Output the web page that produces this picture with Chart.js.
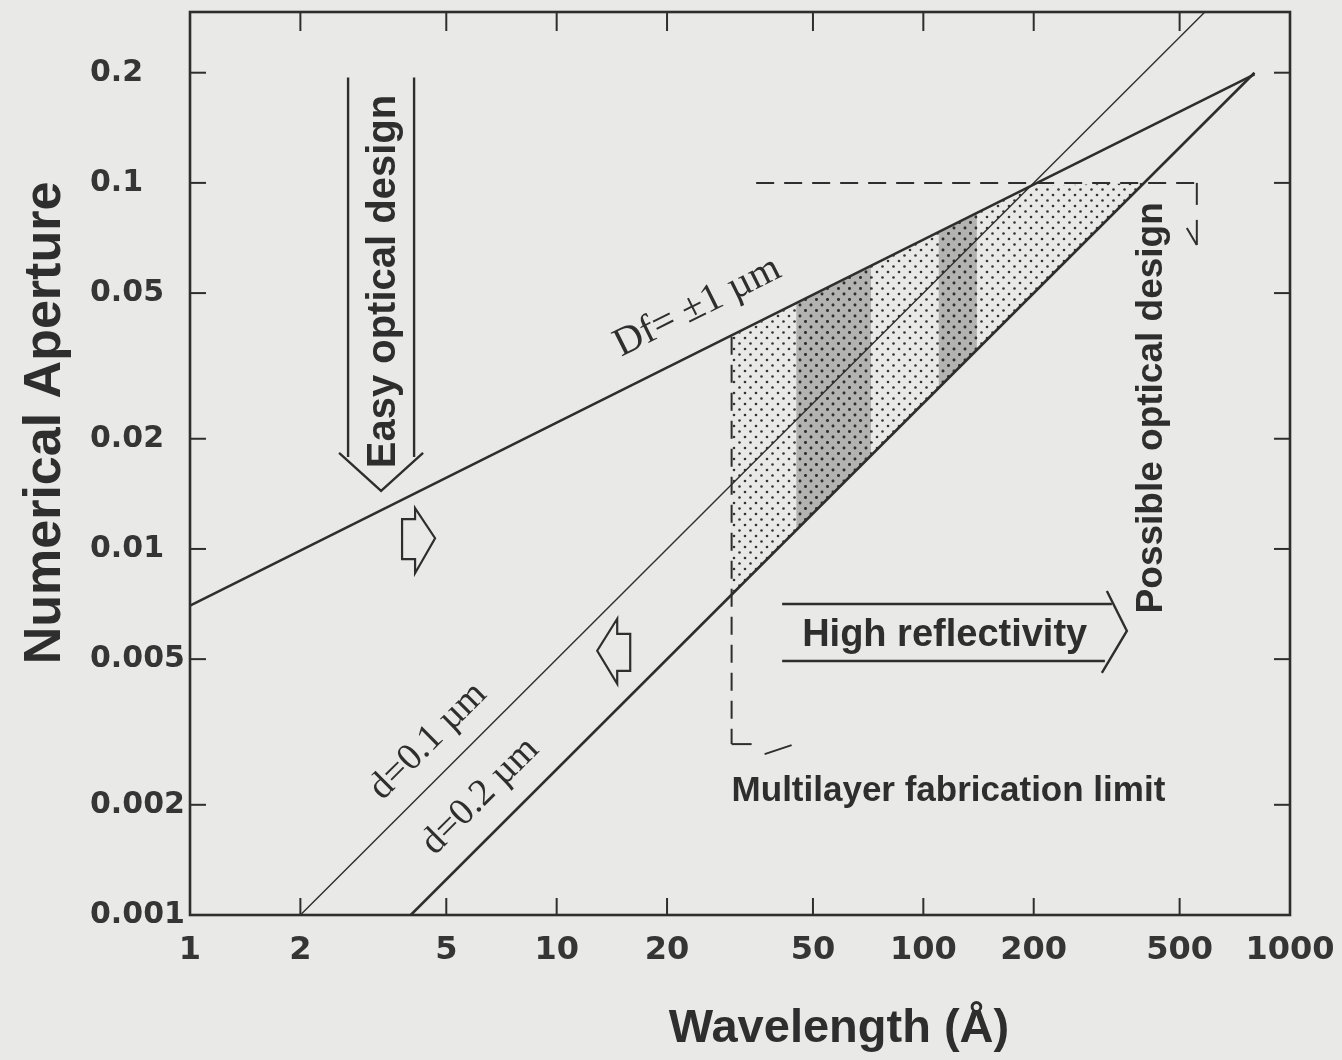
<!DOCTYPE html>
<html>
<head>
<meta charset="utf-8">
<script src="https://cdn.jsdelivr.net/npm/chart.js@4.4.1/dist/chart.umd.min.js"></script>
<style>
  html, body { margin: 0; padding: 0; background: #e9e9e7; }
</style>
</head>
<body>
<canvas id="chart" width="1342" height="1060"></canvas>
<script>
// axis ticks
const xTicks = [1, 2, 5, 10, 20, 50, 100, 200, 500, 1000];
const yTicks = [0.001, 0.002, 0.005, 0.01, 0.02, 0.05, 0.1, 0.2];

// boundary lines: wavelength (Å) / numerical aperture
const dfLambda = [1, 800];
const dfNA = [0.007, 0.198];
const d01Lambda = [2, 600];
const d01NA = [0.001, 0.3];
const d02Lambda = [4, 800];
const d02NA = [0.001, 0.2];

// dotted "possible design" zone
const zoneLambda = [30, 196, 400];
const zoneTop = [0.038, 0.098, 0.1];
const zoneBottom = [0.0075, 0.049, 0.1];

// darker bands inside the zone
const band1Lambda = [45, 72];
const band1Top = [0.047, 0.059];
const band1Bottom = [0.0113, 0.018];
const band2Lambda = [110, 140];
const band2Top = [0.073, 0.083];
const band2Bottom = [0.0275, 0.035];

const yTitle = 'Numerical Aperture';
const xTitle = 'Wavelength (Å)';

const ink = '#2e2e2e';
const canvas = document.getElementById('chart');
const c2d = canvas.getContext('2d');

function dotPattern(bg, dot, r) {
    const t = document.createElement('canvas');
    t.width = 11; t.height = 11;
    const g = t.getContext('2d');
    if (bg) { g.fillStyle = bg; g.fillRect(0, 0, 11, 11); }
    g.fillStyle = dot;
    [[2.5, 2.5], [8, 8]].forEach(([px, py]) => {
        g.beginPath(); g.arc(px, py, r, 0, Math.PI * 2); g.fill();
    });
    return c2d.createPattern(t, 'repeat');
}

const zonePattern = dotPattern(null, '#333333', 1.3);
const bandPattern = dotPattern('rgba(105,105,105,0.42)', '#2e2e2e', 1.4);

const pts = (xs, ys) => xs.map((x, i) => ({ x: x, y: ys[i] }));

const boundary = (xs, ys, w) => ({
    data: pts(xs, ys), borderColor: ink, borderWidth: w,
    pointRadius: 0, fill: false, tension: 0
});
const area = (xs, ys, fill, bg) => ({
    data: pts(xs, ys), borderColor: 'rgba(0,0,0,0)', borderWidth: 1,
    pointRadius: 0, fill: fill, backgroundColor: bg || 'rgba(0,0,0,0)', tension: 0
});

function seg(ctx, x1, y1, x2, y2) {
    ctx.beginPath(); ctx.moveTo(x1, y1); ctx.lineTo(x2, y2); ctx.stroke();
}
function poly(ctx, p, close) {
    ctx.beginPath();
    p.forEach(([px, py], i) => i ? ctx.lineTo(px, py) : ctx.moveTo(px, py));
    if (close) ctx.closePath();
    ctx.stroke();
}
function label(ctx, str, x, y, font, angle, align) {
    ctx.save();
    ctx.translate(x, y);
    ctx.rotate(angle || 0);
    ctx.font = font;
    ctx.textAlign = align || 'left';
    ctx.textBaseline = 'alphabetic';
    ctx.fillStyle = ink;
    ctx.fillText(str, 0, 0);
    ctx.restore();
}

const decor = {
    id: 'decor',
    afterDatasetsDraw(chart) {
        const { ctx, chartArea: a, scales: { x, y } } = chart;
        const X = v => x.getPixelForValue(v);
        const Y = v => y.getPixelForValue(v);
        ctx.save();
        ctx.strokeStyle = ink;
        ctx.lineJoin = 'miter';

        // frame + inward ticks
        ctx.lineWidth = 2.6;
        ctx.strokeRect(a.left, a.top, a.right - a.left, a.bottom - a.top);
        ctx.lineWidth = 2;
        xTicks.forEach(v => {
            const px = X(v);
            seg(ctx, px, a.bottom, px, a.bottom - 17);
            seg(ctx, px, a.top, px, a.top + 19);
        });
        yTicks.forEach(v => {
            const py = Y(v);
            seg(ctx, a.left, py, a.left + 16, py);
            seg(ctx, a.right, py, a.right - 16, py);
        });

        // slanted line labels
        const ang = (xs, ys) => Math.atan2(Y(ys[1]) - Y(ys[0]), X(xs[1]) - X(xs[0]));
        label(ctx, 'Df= ±1 µm', X(15), Y(0.0335), '40px "Liberation Serif"', ang(dfLambda, dfNA));
        label(ctx, 'd=0.1 µm', X(3.35), Y(0.00205), '38px "Liberation Serif"', ang(d01Lambda, d01NA));
        label(ctx, 'd=0.2 µm', X(4.65), Y(0.00145), '38px "Liberation Serif"', ang(d02Lambda, d02NA));

        // dashed limits
        ctx.lineWidth = 2;
        ctx.setLineDash([18, 10]);
        const fx = X(30), fy = Y(0.00293);
        seg(ctx, fx, Y(0.038), fx, fy);
        const gx = X(557), gy = Y(0.1);
        seg(ctx, X(35), gy, gx, gy);
        ctx.setLineDash([]);
        seg(ctx, fx, fy, fx + 20, fy);
        seg(ctx, fx + 33, fy + 10, fx + 60, fy + 1);
        seg(ctx, gx, gy, gx, gy + 22);
        seg(ctx, gx, gy + 37, gx, gy + 62);
        seg(ctx, gx - 10, gy + 45, gx, gy + 62);

        // "Easy optical design" arrow
        ctx.lineWidth = 2.4;
        const ax = X(3.32), aTop = Y(0.194), aTip = Y(0.0144);
        seg(ctx, ax - 33, aTop, ax - 33, aTip - 34);
        seg(ctx, ax + 33, aTop, ax + 33, aTip - 34);
        poly(ctx, [[ax - 42, aTip - 38], [ax, aTip], [ax + 42, aTip - 38]]);
        label(ctx, 'Easy optical design', ax + 14, aTop + 204, 'bold 40px "Liberation Sans"', -Math.PI / 2, 'center');

        // "High reflectivity" arrow
        const hl = X(41.2), ht = X(359), hy = Y(0.00597);
        seg(ctx, hl, hy - 27, ht - 15, hy - 27);
        seg(ctx, hl, hy + 30, ht - 22, hy + 30);
        poly(ctx, [[ht - 20, hy - 40], [ht, hy], [ht - 25, hy + 42]]);
        label(ctx, 'High reflectivity', hl + 20, hy + 15, 'bold 38px "Liberation Sans"');

        // small hollow arrows
        ctx.lineWidth = 2.2;
        const rx = X(4.66), ry = Y(0.0107);
        poly(ctx, [[rx - 33, ry - 19], [rx - 20, ry - 19], [rx - 20, ry - 30], [rx, ry],
                   [rx - 20, ry + 35], [rx - 20, ry + 21], [rx - 33, ry + 21]], true);
        const lx = X(12.9), ly = Y(0.00527);
        poly(ctx, [[lx + 33, ly - 17], [lx + 20, ly - 17], [lx + 20, ly - 32], [lx, ly],
                   [lx + 20, ly + 33], [lx + 20, ly + 20], [lx + 33, ly + 20]], true);

        // other texts
        label(ctx, 'Possible optical design', X(447), Y(0.0243), 'bold 37px "Liberation Sans"', -Math.PI / 2, 'center');
        label(ctx, 'Multilayer fabrication limit', X(30), Y(0.00205), 'bold 35px "Liberation Sans"');

        // axis titles
        label(ctx, yTitle, a.left - 130, a.top + 411, 'bold 52px "Liberation Sans"', -Math.PI / 2, 'center');
        label(ctx, xTitle, a.left + 649, a.bottom + 127, 'bold 47px "Liberation Sans"', 0, 'center');
        ctx.restore();
    }
};

new Chart(canvas, {
    type: 'line',
    data: {
        datasets: [
            boundary(dfLambda, dfNA, 2.6),
            boundary(d01Lambda, d01NA, 1.4),
            boundary(d02Lambda, d02NA, 2.6),
            area(band1Lambda, band1Top, '+1', bandPattern),
            area(band1Lambda, band1Bottom, false),
            area(band2Lambda, band2Top, '+1', bandPattern),
            area(band2Lambda, band2Bottom, false),
            area(zoneLambda, zoneTop, '+1', zonePattern),
            area(zoneLambda, zoneBottom, false)
        ]
    },
    options: {
        responsive: false,
        animation: false,
        devicePixelRatio: 1,
        layout: { padding: { top: 12, right: 52, left: 90, bottom: 0 } },
        plugins: { legend: { display: false }, tooltip: { enabled: false } },
        scales: {
            x: {
                type: 'logarithmic',
                min: 1, max: 1000,
                grid: { display: false, drawTicks: false },
                border: { display: false },
                afterBuildTicks: s => { s.ticks = xTicks.map(v => ({ value: v })); },
                afterFit: s => { s.height = 145; s.paddingLeft = 0; s.paddingRight = 0; },
                ticks: {
                    autoSkip: false, maxRotation: 0, minRotation: 0, padding: 16,
                    color: '#353535',
                    font: { family: 'DejaVu Sans', weight: 'bold', size: 32 },
                    callback: v => String(v)
                }
            },
            y: {
                type: 'logarithmic',
                min: 0.001, max: 0.293,
                grid: { display: false, drawTicks: false },
                border: { display: false },
                afterBuildTicks: s => { s.ticks = yTicks.map(v => ({ value: v })); },
                afterFit: s => { s.width = 100; s.paddingTop = 0; s.paddingBottom = 0; },
                ticks: {
                    autoSkip: false, padding: 8, crossAlign: 'far',
                    color: '#353535',
                    font: { family: 'DejaVu Sans', weight: 'bold', size: 30 },
                    callback: v => String(v)
                }
            }
        }
    },
    plugins: [decor]
});
</script>
</body>
</html>
